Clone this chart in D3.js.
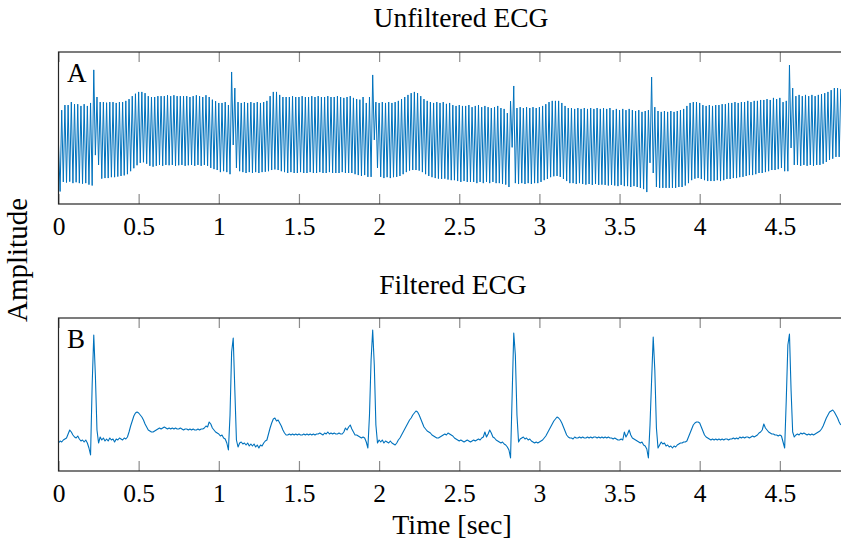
<!DOCTYPE html>
<html>
<head>
<meta charset="utf-8">
<script src="https://cdn.jsdelivr.net/npm/d3@7/dist/d3.min.js"></script>
<style>
  html, body { margin: 0; padding: 0; background: #fff; }
  svg { display: block; }
  text { font-family: "Liberation Serif", "Times New Roman", serif; fill: #000; }
</style>
</head>
<body>
<svg id="chart" width="841" height="544"></svg>
<script>
// Both recordings are sampled at 100 Hz, starting at t = 0 s.
const sampleRate = 100;

// Raw recording: ECG buried under strong 50 Hz mains interference.
const unfiltered = [
  -0.20, -1.78, 0.95, -1.46, 1.12, -1.48, 1.12, -1.45, 1.22, -1.50,
  1.15, -1.47, 1.15, -1.50, 1.09, -1.52, 1.15, -1.50, 1.09, -1.55,
  1.19, -1.58, 2.30, -0.56, 1.39, -0.89, 1.22, -1.35, 1.22, -1.33,
  1.20, -1.33, 1.22, -1.30, 1.22, -1.30, 1.19, -1.28, 1.22, -1.26,
  1.22, -1.24, 1.26, -1.20, 1.32, -1.10, 1.42, -1.00, 1.50, -0.90,
  1.56, -0.82, 1.56, -0.80, 1.52, -0.85, 1.42, -0.92, 1.39, -0.95,
  1.39, -0.92, 1.42, -0.89, 1.42, -0.92, 1.42, -0.89, 1.45, -0.90,
  1.42, -0.89, 1.45, -0.92, 1.42, -0.90, 1.42, -0.89, 1.42, -0.92,
  1.42, -0.90, 1.39, -0.89, 1.42, -0.92, 1.45, -0.89, 1.42, -0.92,
  1.39, -0.89, 1.45, -0.92, 1.39, -0.99, 1.30, -1.03, 1.25, -1.06,
  1.19, -1.13, 1.19, -1.10, 1.22, -1.13, 1.12, -1.20, 2.23, -0.22,
  1.69, -0.99, 1.22, -1.10, 1.19, -1.13, 1.22, -1.16, 1.19, -1.13,
  1.22, -1.16, 1.19, -1.13, 1.22, -1.16, 1.19, -1.13, 1.22, -1.12,
  1.26, -1.10, 1.42, -1.06, 1.56, -1.04, 1.56, -1.06, 1.46, -1.10,
  1.39, -1.13, 1.39, -1.16, 1.39, -1.13, 1.42, -1.16, 1.39, -1.16,
  1.39, -1.13, 1.42, -1.16, 1.39, -1.16, 1.39, -1.13, 1.42, -1.16,
  1.39, -1.16, 1.42, -1.13, 1.39, -1.16, 1.39, -1.16, 1.42, -1.13,
  1.39, -1.16, 1.39, -1.16, 1.42, -1.16, 1.39, -1.13, 1.36, -1.16,
  1.39, -1.16, 1.42, -1.16, 1.36, -1.20, 1.32, -1.23, 1.30, -1.26,
  1.39, -1.23, 1.19, -1.29, 1.39, -1.29, 2.13, -0.05, 1.22, -0.99,
  1.19, -1.29, 1.22, -1.33, 1.19, -1.30, 1.22, -1.33, 1.19, -1.30,
  1.22, -1.29, 1.26, -1.26, 1.32, -1.20, 1.39, -1.13, 1.46, -1.08,
  1.52, -1.06, 1.56, -1.06, 1.52, -1.08, 1.42, -1.13, 1.32, -1.20,
  1.26, -1.26, 1.22, -1.30, 1.19, -1.33, 1.22, -1.35, 1.19, -1.36,
  1.22, -1.35, 1.16, -1.38, 1.19, -1.40, 1.12, -1.40, 1.09, -1.43,
  1.12, -1.46, 1.09, -1.43, 1.09, -1.46, 1.12, -1.46, 1.05, -1.46,
  1.09, -1.50, 1.12, -1.46, 1.05, -1.50, 1.09, -1.46, 1.05, -1.50,
  1.02, -1.46, 1.05, -1.50, 1.09, -1.50, 1.02, -1.53, 0.99, -1.55,
  0.85, -1.63, 1.25, -0.30, 1.76, -1.50, 1.02, -1.53, 1.05, -1.50,
  1.02, -1.53, 1.05, -1.50, 1.02, -1.53, 1.05, -1.50, 1.02, -1.50,
  1.05, -1.46, 1.09, -1.40, 1.15, -1.36, 1.22, -1.30, 1.26, -1.27,
  1.26, -1.26, 1.26, -1.29, 1.19, -1.36, 1.09, -1.43, 1.02, -1.50,
  1.02, -1.50, 0.99, -1.53, 1.02, -1.50, 0.99, -1.53, 1.02, -1.55,
  0.99, -1.53, 1.02, -1.56, 0.99, -1.53, 1.02, -1.56, 0.99, -1.55,
  1.02, -1.56, 0.99, -1.58, 1.02, -1.56, 0.95, -1.58, 0.99, -1.60,
  0.95, -1.56, 0.99, -1.60, 0.95, -1.60, 0.99, -1.63, 0.95, -1.60,
  0.92, -1.63, 0.95, -1.66, 0.89, -1.70, 0.92, -1.80, 0.95, -0.82,
  2.06, -1.16, 1.05, -1.63, 0.92, -1.66, 0.89, -1.66, 0.92, -1.66,
  0.89, -1.66, 0.92, -1.66, 0.89, -1.66, 0.92, -1.63, 0.95, -1.63,
  0.99, -1.58, 1.09, -1.50, 1.19, -1.40, 1.22, -1.35, 1.22, -1.33,
  1.19, -1.36, 1.12, -1.40, 1.09, -1.43, 1.12, -1.43, 1.09, -1.43,
  1.12, -1.40, 1.12, -1.43, 1.15, -1.40, 1.15, -1.36, 1.19, -1.36,
  1.19, -1.33, 1.22, -1.33, 1.19, -1.30, 1.22, -1.29, 1.22, -1.26,
  1.26, -1.23, 1.22, -1.23, 1.26, -1.20, 1.26, -1.16, 1.29, -1.16,
  1.29, -1.13, 1.32, -1.10, 1.29, -1.06, 1.36, -1.06, 1.32, -1.03,
  1.36, -0.99, 1.22, -1.10, 1.26, -1.10, 2.46, -0.32, 1.69, -0.89,
  1.42, -0.89, 1.46, -0.92, 1.42, -0.89, 1.46, -0.92, 1.42, -0.89,
  1.46, -0.92, 1.42, -0.89, 1.46, -0.89, 1.49, -0.85, 1.52, -0.79,
  1.56, -0.72, 1.62, -0.68, 1.69, -0.62, 1.69, -0.62, 1.66
];

// Same recording after removing the mains interference.
const filtered = [
  -0.03, -0.01, -0.02, 0.00, 0.01, 0.02, 0.06, 0.10, 0.08, 0.05,
  0.03, 0.02, 0.04, 0.01, -0.01, 0.00, -0.02, 0.00, -0.03, -0.08,
  -0.15, 0.55, 1.05, 0.65, 0.10, -0.03, 0.03, 0.00, 0.02, -0.01,
  0.01, -0.01, 0.02, 0.00, 0.01, -0.02, 0.01, 0.00, 0.02, 0.01,
  0.00, 0.02, 0.01, 0.03, 0.08, 0.14, 0.19, 0.24, 0.27, 0.28,
  0.27, 0.25, 0.23, 0.20, 0.16, 0.13, 0.10, 0.09, 0.08, 0.08,
  0.09, 0.10, 0.11, 0.12, 0.11, 0.12, 0.13, 0.12, 0.11, 0.12,
  0.11, 0.12, 0.11, 0.12, 0.11, 0.11, 0.12, 0.11, 0.10, 0.11,
  0.11, 0.10, 0.11, 0.10, 0.11, 0.10, 0.10, 0.11, 0.10, 0.11,
  0.11, 0.12, 0.14, 0.13, 0.18, 0.16, 0.12, 0.10, 0.08, 0.07,
  0.06, 0.04, 0.05, 0.02, 0.01, -0.03, -0.10, 0.25, 0.88, 1.02,
  0.50, 0.00, -0.07, -0.03, -0.02, -0.04, -0.03, -0.05, -0.03, -0.06,
  -0.04, -0.06, -0.04, -0.07, -0.05, -0.08, -0.05, -0.06, -0.03, -0.01,
  0.00, 0.06, 0.12, 0.17, 0.21, 0.22, 0.19, 0.20, 0.17, 0.14,
  0.10, 0.07, 0.05, 0.05, 0.06, 0.05, 0.06, 0.05, 0.06, 0.05,
  0.06, 0.05, 0.05, 0.06, 0.05, 0.06, 0.05, 0.06, 0.05, 0.06,
  0.05, 0.06, 0.06, 0.07, 0.06, 0.05, 0.07, 0.06, 0.08, 0.06,
  0.07, 0.06, 0.07, 0.06, 0.06, 0.07, 0.06, 0.06, 0.08, 0.12,
  0.10, 0.13, 0.15, 0.11, 0.08, 0.05, 0.05, 0.04, 0.03, 0.02,
  0.03, 0.02, -0.02, -0.08, 0.25, 0.80, 1.10, 0.75, 0.15, -0.03,
  0.00, -0.02, 0.00, -0.03, -0.01, -0.02, -0.03, -0.01, -0.03, -0.04,
  -0.05, -0.03, 0.00, 0.02, 0.05, 0.08, 0.11, 0.14, 0.17, 0.20,
  0.22, 0.25, 0.27, 0.29, 0.28, 0.25, 0.21, 0.17, 0.13, 0.11,
  0.09, 0.08, 0.07, 0.05, 0.04, 0.03, 0.02, 0.02, 0.03, 0.04,
  0.05, 0.06, 0.05, 0.07, 0.06, 0.05, 0.04, 0.02, 0.01, 0.00,
  -0.01, 0.00, -0.01, -0.02, -0.01, 0.00, -0.01, -0.02, -0.01, 0.00,
  -0.01, 0.00, 0.01, 0.00, 0.02, 0.03, 0.08, 0.03, 0.06, 0.10,
  0.07, 0.03, 0.02, 0.00, -0.01, -0.02, -0.03, -0.02, -0.04, -0.05,
  -0.07, -0.10, -0.18, 0.45, 1.07, 0.85, 0.25, -0.02, 0.01, 0.02,
  0.03, 0.01, 0.02, 0.00, 0.01, -0.01, -0.02, -0.03, -0.02, -0.03,
  -0.02, -0.01, 0.00, 0.02, 0.04, 0.07, 0.10, 0.13, 0.16, 0.19,
  0.21, 0.23, 0.22, 0.20, 0.17, 0.13, 0.09, 0.05, 0.03, 0.02,
  0.02, 0.01, 0.03, 0.02, 0.02, 0.03, 0.02, 0.03, 0.02, 0.02,
  0.03, 0.02, 0.03, 0.02, 0.03, 0.03, 0.02, 0.03, 0.02, 0.03,
  0.02, 0.03, 0.02, 0.03, 0.02, 0.02, 0.01, 0.02, 0.01, 0.00,
  0.00, 0.01, 0.00, 0.08, 0.03, 0.06, 0.10, 0.05, 0.02, 0.01,
  0.00, -0.01, -0.02, -0.03, -0.02, -0.05, -0.06, -0.09, -0.18, 0.15,
  0.60, 1.03, 0.70, 0.12, -0.08, -0.05, -0.02, -0.04, -0.03, -0.06,
  -0.05, -0.07, -0.06, -0.08, -0.06, -0.07, -0.05, -0.04, -0.03, -0.03,
  -0.02, -0.02, -0.01, 0.03, 0.07, 0.11, 0.15, 0.17, 0.18, 0.18,
  0.17, 0.13, 0.09, 0.05, 0.03, 0.02, 0.01, 0.00, 0.01, 0.00,
  0.01, 0.00, 0.01, 0.00, 0.01, 0.00, 0.01, 0.01, 0.00, 0.01,
  0.01, 0.02, 0.01, 0.02, 0.01, 0.03, 0.02, 0.03, 0.02, 0.03,
  0.03, 0.02, 0.03, 0.04, 0.03, 0.04, 0.05, 0.07, 0.08, 0.10,
  0.16, 0.12, 0.10, 0.08, 0.07, 0.06, 0.06, 0.05, 0.05, 0.04,
  0.05, 0.04, -0.02, -0.08, 0.40, 0.95, 1.06, 0.50, 0.08, 0.03,
  0.05, 0.06, 0.05, 0.07, 0.06, 0.07, 0.06, 0.05, 0.06, 0.05,
  0.06, 0.05, 0.06, 0.07, 0.08, 0.09, 0.11, 0.14, 0.18, 0.22,
  0.25, 0.28, 0.29, 0.30, 0.28, 0.25, 0.22, 0.18, 0.15
];

const timeTicks = [0, 0.5, 1, 1.5, 2, 2.5, 3, 3.5, 4, 4.5];
const timeTickLabels = ["0", "0.5", "1", "1.5", "2", "2.5", "3", "3.5", "4", "4.5"];
const timeDomain = [0, 4.9];

const panels = [
  { id: "A", title: "Unfiltered ECG", values: unfiltered, yDomain: [-2.2, 2.9],
    top: 52, bottom: 204, titleX: 461, titleY: 27, traceWidth: 1.0 },
  { id: "B", title: "Filtered ECG", values: filtered, yDomain: [-0.31, 1.22],
    top: 318, bottom: 471, titleX: 453, titleY: 294, traceWidth: 1.1 }
];

const lineColor = "#0072BD";
const frameColor = "#262626";
const tickColor = "#8c8c8c";
const left = 58.5;
const pxPerSecond = 160.3;

const svg = d3.select("#chart");
const x = d3.scaleLinear()
  .domain(timeDomain)
  .range([left, left + (timeDomain[1] - timeDomain[0]) * pxPerSecond]);

panels.forEach((p, k) => {
  const y = d3.scaleLinear().domain(p.yDomain).range([p.bottom, p.top]);
  const g = svg.append("g");

  const clipId = "clip" + k;
  svg.append("clipPath").attr("id", clipId)
    .append("rect")
    .attr("x", x.range()[0]).attr("y", p.top)
    .attr("width", x.range()[1] - x.range()[0]).attr("height", p.bottom - p.top);

  // signal trace
  const line = d3.line()
    .x((d, i) => x(i / sampleRate))
    .y(d => y(d));
  g.append("path")
    .datum(p.values)
    .attr("clip-path", `url(#${clipId})`)
    .attr("fill", "none")
    .attr("stroke", lineColor)
    .attr("stroke-width", p.traceWidth)
    .attr("stroke-linejoin", "round")
    .attr("d", line);

  // inward ticks along the bottom edge, with labels
  const axB = g.append("g")
    .attr("transform", `translate(0,${p.bottom})`)
    .call(d3.axisBottom(x)
      .tickValues(timeTicks)
      .tickFormat((d, i) => timeTickLabels[i])
      .tickSizeInner(-10).tickSizeOuter(0).tickPadding(22));
  axB.select(".domain").remove();
  axB.selectAll(".tick line").attr("stroke", tickColor).attr("stroke-width", 1.2);
  axB.selectAll(".tick text")
    .attr("font-family", '"Liberation Serif", serif')
    .attr("font-size", 25.5)
    .attr("fill", "#000")
    .attr("dy", "0.35em");

  // inward ticks along the top edge
  const axT = g.append("g")
    .attr("transform", `translate(0,${p.top})`)
    .call(d3.axisTop(x).tickValues(timeTicks).tickFormat("")
      .tickSizeInner(-10).tickSizeOuter(0));
  axT.select(".domain").remove();
  axT.selectAll(".tick line").attr("stroke", tickColor).attr("stroke-width", 1.2);

  // axis box
  g.append("rect")
    .attr("x", x.range()[0]).attr("y", p.top)
    .attr("width", x.range()[1] - x.range()[0]).attr("height", p.bottom - p.top)
    .attr("fill", "none").attr("stroke", frameColor).attr("stroke-width", 1.2);

  // panel letter
  g.append("text")
    .attr("x", 67).attr("y", p.top + 30)
    .attr("font-size", 27)
    .text(p.id);

  // panel title
  svg.append("text")
    .attr("x", p.titleX).attr("y", p.titleY)
    .attr("text-anchor", "middle")
    .attr("font-size", 27.5)
    .text(p.title);
});

// shared axis labels
svg.append("text")
  .attr("x", 452).attr("y", 534)
  .attr("text-anchor", "middle")
  .attr("font-size", 28)
  .text("Time [sec]");

svg.append("text")
  .attr("transform", "translate(27,260) rotate(-90)")
  .attr("text-anchor", "middle")
  .attr("font-size", 29)
  .text("Amplitude");
</script>
</body>
</html>
